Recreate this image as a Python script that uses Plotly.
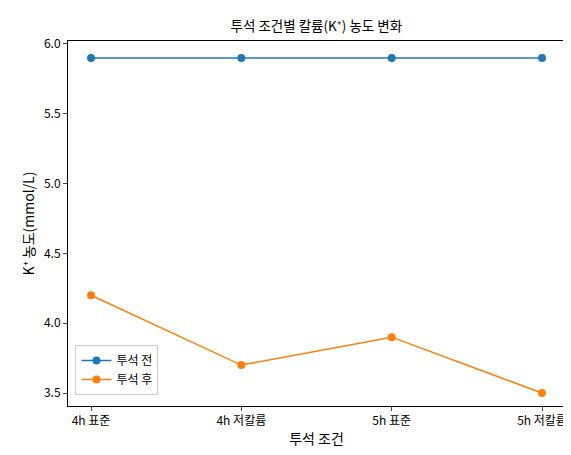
import plotly.graph_objects as go

conditions = ["4h 표준", "4h 저칼륨", "5h 표준", "5h 저칼륨"]
before = [5.9, 5.9, 5.9, 5.9]
after = [4.2, 3.7, 3.9, 3.5]

fig = go.Figure()
fig.add_trace(go.Scatter(x=list(range(4)), y=before, mode="lines+markers", name="투석 전",
                         line=dict(color="#1f77b4", width=1.5), marker=dict(size=8)))
fig.add_trace(go.Scatter(x=list(range(4)), y=after, mode="lines+markers", name="투석 후",
                         line=dict(color="#ff7f0e", width=1.5), marker=dict(size=8)))

axis = dict(showline=True, linecolor="black", mirror=True, ticks="outside", ticklen=4,
            showgrid=False, zeroline=False, automargin=False,
            tickfont=dict(size=12, color="black"))
fig.update_layout(
    width=571, height=455, plot_bgcolor="white", paper_bgcolor="white",
    font=dict(family="Noto Sans CJK KR", color="black", size=12),
    margin=dict(l=60, r=14, t=33, b=57, autoexpand=False),
    title=dict(text="투석 조건별 칼륨(K⁺) 농도 변화", x=0.54, xanchor="center",
               y=0.96, yanchor="middle", font=dict(size=13.5)),
    xaxis=dict(axis, tickmode="array", tickvals=list(range(4)), ticktext=conditions,
               range=[-0.153, 3.153], title=dict(text="투석 조건", standoff=6)),
    yaxis=dict(axis, range=[3.407, 6.021], dtick=0.5, tickformat=".1f",
               title=dict(text="K⁺ 농도(mmol/L)", standoff=6)),
    legend=dict(x=0.015, y=0.03, xanchor="left", yanchor="bottom", bordercolor="#ccc",
                borderwidth=1, bgcolor="rgba(255,255,255,0.8)", font=dict(size=12)),
)
fig.write_html("out.html")
